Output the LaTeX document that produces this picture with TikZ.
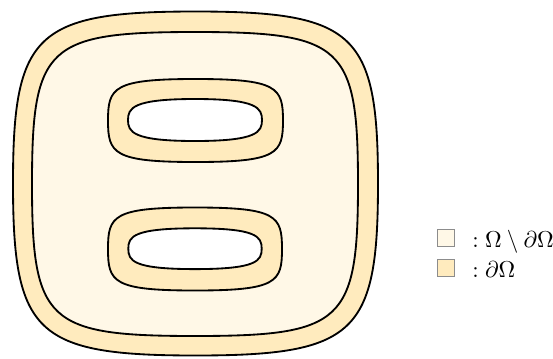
\documentclass[tikz,border=0pt]{standalone}
\definecolor{ringcol}{RGB}{255,235,190}
\definecolor{incol}{RGB}{255,248,231}
\newcommand\sqpath[6]{({#1},{#2-#4}) .. controls ({#1+#5},{#2-#4}) and ({#1+#3},{#2-#6}) .. ({#1+#3},{#2}) .. controls ({#1+#3},{#2+#6}) and ({#1+#5},{#2+#4}) .. ({#1},{#2+#4}) .. controls ({#1-#5},{#2+#4}) and ({#1-#3},{#2+#6}) .. ({#1-#3},{#2}) .. controls ({#1-#3},{#2-#6}) and ({#1-#5},{#2-#4}) .. cycle}
\tikzset{
  bnd/.style={draw=black, line width=0.8pt, line join=round},
  legbox/.style={draw=black!45, line width=0.35pt, minimum width=7.3pt, minimum height=7.3pt, inner sep=0pt},
  legtext/.style={anchor=base west, inner sep=0pt}
}
\begin{document}
\begin{tikzpicture}[x=0.4348pt, y=-0.4348pt]
\useasboundingbox (0,0) rectangle (553,358);
% outer domain
\path[bnd, fill=ringcol] \sqpath{195.5}{183.5}{182.5}{172}{160}{150};
\path[bnd, fill=incol] \sqpath{195}{184}{163}{152}{148}{138};
% hole 1
\path[bnd, fill=ringcol] \sqpath{195.5}{120.5}{87.5}{41.5}{82}{33};
\path[bnd, fill=white] \sqpath{195}{120}{67}{21}{62}{12};
% hole 2
\path[bnd, fill=ringcol] \sqpath{195}{249}{87}{41.5}{82}{33};
\path[bnd, fill=white] \sqpath{195}{248.7}{66.7}{20.4}{62}{12};
% legend
\node[legbox, fill=incol, anchor=south west] (b1) at (437,247) {};
\node[legbox, fill=ringcol, anchor=south west] (b2) at (437,277) {};
\node[legtext] (t1) at (472,247) {$:\Omega\setminus\partial\Omega$};
\node[legtext] (t2) at (472,277) {$:\partial\Omega$};
\end{tikzpicture}
\end{document}
